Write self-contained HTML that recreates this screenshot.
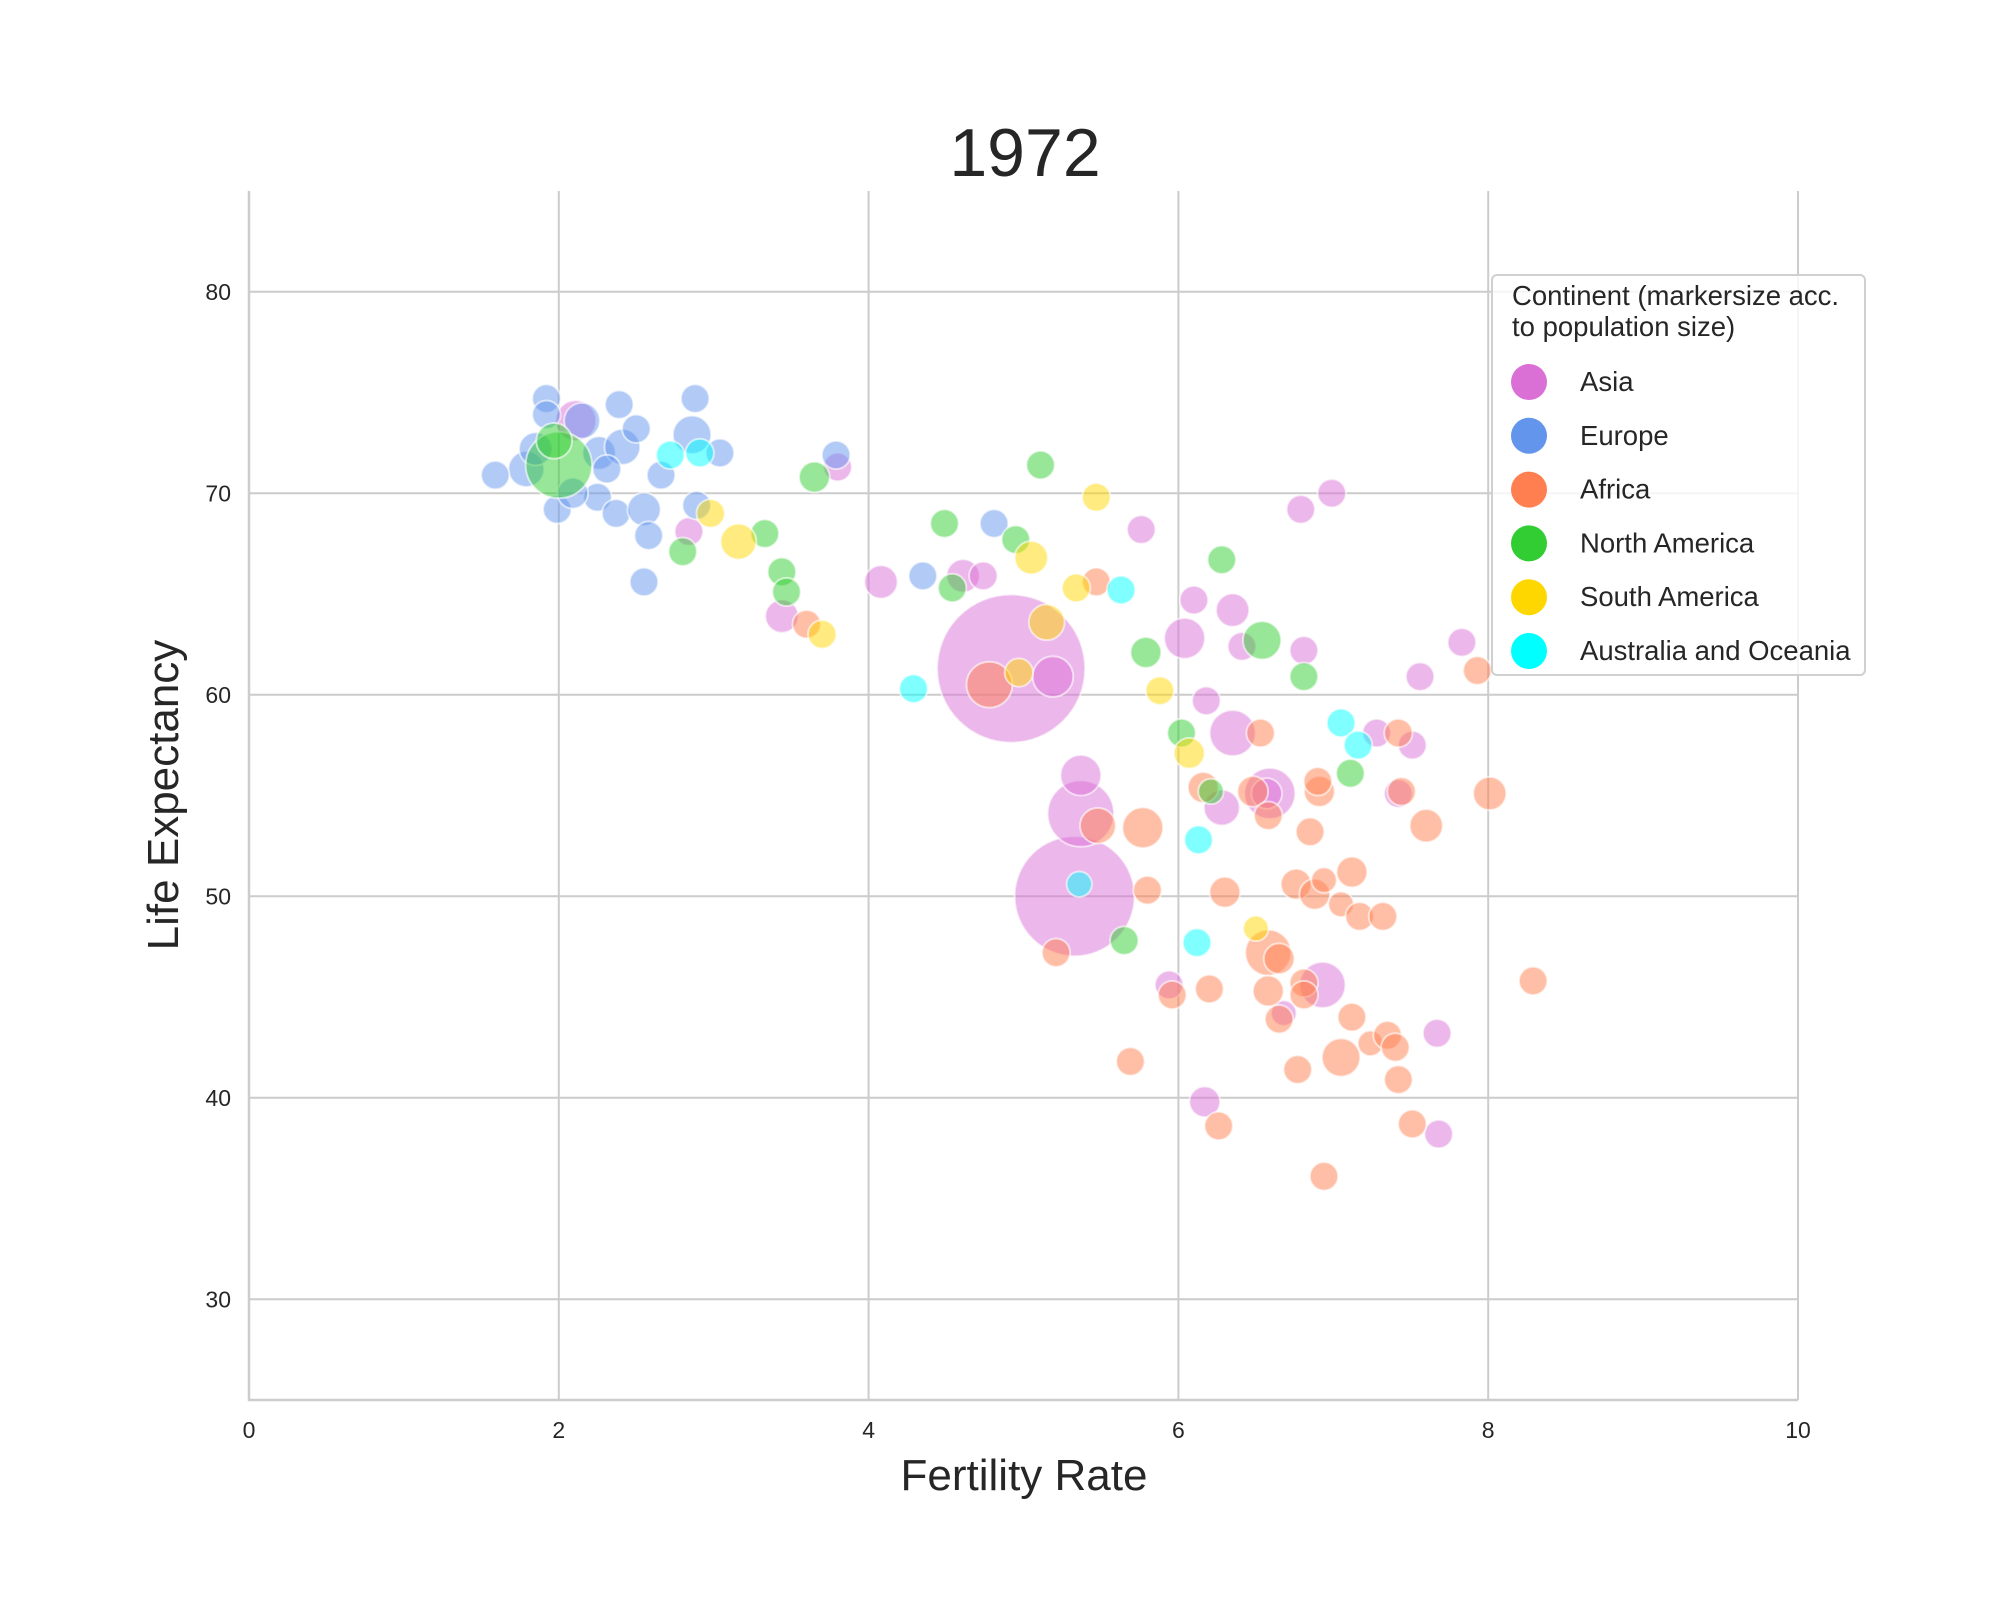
<!DOCTYPE html>
<html><head><meta charset="utf-8"><style>
html,body{margin:0;padding:0;background:#fff;}
svg{display:block;font-family:"Liberation Sans",sans-serif;}
</style></head><body>
<svg id="chart" width="2000" height="1600" viewBox="0 0 2000 1600" xmlns="http://www.w3.org/2000/svg">
<rect width="2000" height="1600" fill="#fff"/>
<g id="grid"></g>
<g id="marks"></g>
<g id="axes"></g>
<text x="1025" y="176" font-size="68" text-anchor="middle" fill="#262626">1972</text>
<text x="1024" y="1490" font-size="44" text-anchor="middle" fill="#262626">Fertility Rate</text>
<text x="0" y="0" font-size="44" text-anchor="middle" fill="#262626" transform="translate(178,795) rotate(-90)">Life Expectancy</text>
<g id="legend"></g>
</svg>
<script>
const continents=["Asia","Europe","Africa","North America","South America","Australia and Oceania"];
const colors=["#DA70D6","#6495ED","#FF7F50","#32CD32","#FFD700","#00FFFF"];
const xTicks=[0,2,4,6,8,10];
const yTicks=[30,40,50,60,70,80];
// [fertility, lifeExp, population(M)] per continent
const asia=[[4.92,61.3,832],[5.33,50.0,498],[5.37,54.1,97],[5.37,56.0,15],[5.19,60.9,15],[6.04,62.8,15],[6.35,58.1,26],[6.59,55.1,39],[6.93,45.6,26],[2.11,73.6,15],[4.08,65.6,4.5],[4.61,65.9,4.5],[4.74,65.9,1],[3.80,71.3,1],[3.44,63.9,4.5],[2.84,68.1,1],[5.76,68.2,1],[6.10,64.7,1],[6.35,64.2,4.5],[6.41,62.4,1],[6.18,59.7,1],[6.28,54.4,7.5],[6.79,69.2,1],[6.99,70.0,1],[6.81,62.2,1],[7.83,62.6,1],[7.56,60.9,1],[7.28,58.1,1],[7.51,57.5,1],[7.42,55.1,1],[7.67,43.2,1],[7.68,38.2,1],[6.17,39.8,2.4],[5.94,45.6,1],[6.68,44.2,0.1],[6.57,55.1,2.4]];
const europe=[[1.79,71.2,7.5],[1.59,70.9,1],[1.92,74.7,1],[1.92,73.9,1],[1.99,69.2,1],[2.15,73.6,7.5],[2.26,72.0,4.5],[2.39,74.4,1],[2.41,72.3,7.5],[2.50,73.2,1],[2.25,69.8,1],[2.37,69.0,1],[2.55,69.2,4.5],[2.58,67.9,1],[2.55,65.6,1],[2.66,70.9,1],[2.88,74.7,1],[2.86,72.9,11],[2.89,69.4,1],[3.04,72.0,1],[3.79,71.9,1],[4.35,65.9,1],[4.81,68.5,1],[2.31,71.2,1],[2.09,70.0,2.4],[1.85,72.2,4.5]];
const africa=[[4.78,60.5,26],[3.60,63.5,1],[5.47,65.6,1],[5.48,53.5,7.5],[5.77,53.4,15],[5.80,50.3,1],[5.21,47.2,1],[5.69,41.8,1],[5.96,45.1,1],[6.20,45.4,1],[6.26,38.6,1],[6.16,55.4,2.4],[6.30,50.2,2.4],[6.53,58.1,1],[6.48,55.2,2.4],[6.58,54.0,1],[6.58,47.2,26],[6.65,46.9,2.4],[6.58,45.3,2.4],[6.65,43.9,1],[6.77,41.4,1],[6.76,50.6,2.4],[6.85,53.2,1],[6.91,55.2,2.4],[6.90,55.7,1],[6.88,50.1,2.4],[6.94,50.8,0.1],[6.81,45.7,1],[6.81,45.1,1],[7.12,51.2,2.4],[7.05,49.6,0.1],[7.17,49.0,1],[7.32,49.0,1],[7.12,44.0,1],[7.05,42.0,11],[7.24,42.7,0.1],[7.35,43.1,1],[7.40,42.5,1],[7.42,40.9,1],[7.51,38.7,1],[6.94,36.1,1],[7.42,58.1,1],[7.44,55.2,1],[7.60,53.5,4.5],[7.93,61.2,1],[8.01,55.1,4.5],[8.29,45.8,1]];
const northAmerica=[[2.0,71.4,97],[1.97,72.6,7.5],[3.65,70.8,2.4],[2.80,67.1,1],[3.33,68.0,1],[3.44,66.1,1],[3.47,65.1,1],[4.49,68.5,1],[4.54,65.3,1],[4.95,67.7,1],[5.11,71.4,1],[5.79,62.1,2.4],[6.28,66.7,1],[6.54,62.7,11],[6.81,60.9,1],[6.02,58.1,1],[6.21,55.2,0.1],[7.11,56.1,1],[5.65,47.8,1]];
const southAmerica=[[2.98,69.0,1],[3.16,67.6,7.5],[3.70,63.0,1],[5.47,69.8,1],[5.05,66.8,4.5],[5.15,63.6,7.5],[5.34,65.3,1],[4.97,61.1,1],[5.88,60.2,1],[6.07,57.1,2.4],[6.50,48.4,0.1]];
const oceania=[[2.72,71.9,1],[2.91,72.0,1],[4.29,60.3,1],[5.63,65.2,1],[6.13,52.8,1],[5.36,50.6,0.1],[6.12,47.7,1],[7.05,58.6,1],[7.16,57.5,1]];
const series=[asia,europe,africa,northAmerica,southAmerica,oceania];

const NS="http://www.w3.org/2000/svg";
const X0=249,X1=1798,Ytop=191,Ybot=1400;
function xs(v){return X0+(v-0)/(10-0)*(X1-X0);}
function ys(v){return Ybot-(v-25)/(85-25)*(Ybot-Ytop);}
function rs(p){return 12+2.15*Math.sqrt(p);}
function mk(tag,attrs,parent){const e=document.createElementNS(NS,tag);for(const k in attrs)e.setAttribute(k,attrs[k]);parent.appendChild(e);return e;}
const grid=document.getElementById('grid'),axes=document.getElementById('axes'),marks=document.getElementById('marks'),legend=document.getElementById('legend');
xTicks.forEach(t=>{
  const l=mk('line',{x1:xs(t),x2:xs(t),y1:Ytop,y2:Ybot,stroke:'#cccccc','stroke-width':2},grid);
  
  
  const tx=mk('text',{x:xs(t),y:1438,'font-size':23,'text-anchor':'middle',fill:'#262626'},axes);
  tx.textContent=t;
  
  
});
yTicks.forEach(t=>{
  const l=mk('line',{x1:X0,x2:X1,y1:ys(t),y2:ys(t),stroke:'#cccccc','stroke-width':2},grid);
  
  
  const tx=mk('text',{x:231,y:ys(t)+8,'font-size':23,'text-anchor':'end',fill:'#262626'},axes);
  tx.textContent=t;
  
  
});
const sp1=mk('line',{x1:X0,x2:X0,y1:Ytop,y2:Ybot+1,stroke:'#cccccc','stroke-width':2.5},axes);


const sp2=mk('line',{x1:X0-1,x2:X1,y1:Ybot,y2:Ybot,stroke:'#cccccc','stroke-width':2.5},axes);



series.forEach((arr,i)=>{
  arr.forEach(d=>{
    const c=mk('circle',{cx:xs(d[0]),cy:ys(d[1]),r:rs(d[2]),fill:colors[i],'fill-opacity':0.5,stroke:'#fff','stroke-opacity':0.6,'stroke-width':2},marks);
    
    
  });
});

const box=mk('rect',{x:1492,y:275,width:373,height:400,rx:5,fill:'#fff','fill-opacity':0.8,stroke:'#d0d0d0','stroke-width':2},legend);


const t1=mk('text',{x:1512,y:305,'font-size':27.5,fill:'#262626'},legend);
t1.textContent='Continent (markersize acc.';


const t2=mk('text',{x:1512,y:336,'font-size':27.5,fill:'#262626'},legend);
t2.textContent='to population size)';


continents.forEach((n,i)=>{
  const y=382+i*53.8;
  const c=mk('circle',{cx:1529,cy:y,r:18,fill:colors[i]},legend);
  
  
  const t=mk('text',{x:1580,y:y+9,'font-size':27.5,fill:'#262626'},legend);
  t.textContent=n;
  
  
});
</script>
</body></html>
